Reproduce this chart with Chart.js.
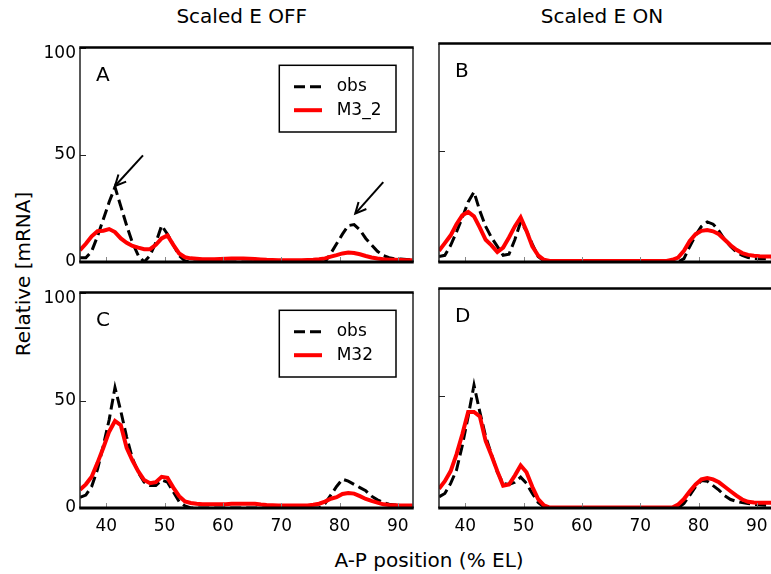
<!DOCTYPE html>
<html>
<head>
<meta charset="utf-8">
<script src="https://cdn.jsdelivr.net/npm/chart.js@4.4.0/dist/chart.umd.min.js"></script>
<style>
html,body{margin:0;padding:0;background:#fff;overflow:hidden;width:771px;height:574px;}
body{position:relative;font-family:"DejaVu Sans",sans-serif;color:#000;}
.panel{position:absolute;}
.panel canvas{display:block;}
.txt{position:absolute;font-family:"DejaVu Sans",sans-serif;font-size:20px;line-height:20px;white-space:nowrap;color:#000;}
</style>
</head>
<body>
<div class="txt" id="t0" style="left:141.7px;width:200px;text-align:center;top:6.4px"></div>
<div class="txt" id="t1" style="left:502px;width:200px;text-align:center;top:6.4px"></div>
<div class="txt" id="ylab" style="left:22.5px;top:274px;transform:translate(-50%,-50%) rotate(-90deg)"></div>
<div class="txt" id="xlab" style="left:329px;width:200px;text-align:center;top:550px"></div>
<script>
// ---------------- data ----------------
const columnTitles = ['Scaled E OFF', 'Scaled E ON'];
const yAxisTitle = 'Relative [mRNA]';
const xAxisTitle = 'A-P position (% EL)';
const panelLetters = ['A', 'B', 'C', 'D'];
const seriesLabels = { obs: 'obs', modelTop: 'M3_2', modelBottom: 'M32' };

const xTicks = [40, 50, 60, 70, 80, 90];
const yTicks = [0, 50, 100];

const xPositions = [35.5,36.5,37.5,38.5,39.5,40.5,41.5,42.5,43.5,44.5,45.5,46.5,47.5,48.5,49.5,50.5,51.5,52.5,53.5,
  54.5,55.5,56.5,57.5,58.5,59.5,60.5,61.5,62.5,63.5,64.5,65.5,66.5,67.5,68.5,69.5,70.5,71.5,72.5,73.5,74.5,75.5,76.5,
  77.5,78.5,79.5,80.5,81.5,82.5,83.5,84.5,85.5,86.5,87.5,88.5,89.5,90.5,91.5,92.5];

// Panel A: Scaled E OFF, model M3_2
const obsA = [2,2,5,12,20,28,35,26,17,9,3,0,3,9,17,13,8,3,0.5,
  0,0,0,0,0,0,0,0,0,0,0,0,0,0,0,0,0,0,0,0,0,0,0,0,
  4,8.5,13,17,17.5,15,11,8,5,3,2,1.5,1.4,1.2,1];
const modelA = [5.5,8.5,12,14.4,14.6,15.4,14,11,9,7.5,6.7,6,6,8,11,12.4,8,4,2.2,
  1.7,1.5,1.3,1.3,1.3,1.4,1.5,1.6,1.6,1.6,1.5,1.4,1.2,1.0,0.9,0.8,0.8,0.8,0.8,0.8,0.9,1.0,1.3,
  1.7,2.5,3.2,4,4.4,4.2,3.6,2.8,2.1,1.6,1.3,1.1,1.0,0.9,0.8,0.8];

// Panel B: Scaled E ON, model M3_2
const obsB = [2.5,3,7.5,13.5,20,27,31.5,23,16,11,7,3,3.5,10,18,14,8,2.5,0.5,
  0,0,0,0,0,0,0,0,0,0,0,0,0,0,0,0,0,0,0,0,0,0,0,
  1.5,7,12,16,18,17,14,10,7,4.5,3,2,1.6,1.5,1.5,1.5];
const modelB = [5,8.5,12,17,21,22.5,20.5,15.5,10,7.5,4.5,6.5,11,16,20,14,7,3,1,
  0.5,0.5,0.5,0.5,0.5,0.5,0.5,0.5,0.5,0.5,0.5,0.5,0.5,0.5,0.5,0.5,0.5,0.5,0.5,0.5,0.5,
  1,2,5,9.5,12.5,14,14.4,13.8,12.5,10,7.5,5.5,4,3.2,2.8,2.6,2.5,2.5];

// Panel C: Scaled E OFF, model M32
const obsC = [5,6,10,18,29,41,56,45,33,23,16.5,12,10.5,10.5,13,12,7.5,3,1,
  0,0,0,0,0,0,0,0,0,0,0,0,0,0,0,0,0,0,0,0,0,0,0,
  2,6,10,13.4,12.5,11,9.5,8,5.5,3.8,2.5,1.8,1.4,1.2,1,1];
const modelC = [8.5,11,14.5,21,28,35.5,40.5,38.5,28,22,17,13,11.5,12,14.5,14,9.5,5.5,3,
  2.3,2,1.8,1.8,1.8,1.8,1.8,2,2,2,2,2,1.6,1.4,1.3,1.2,1.2,1.2,1.2,1.2,1.2,1.5,2,
  3,4.3,5,6.5,7,6.7,5.5,4.2,3.3,2.5,1.7,1.4,1.3,1.2,1.2,1.2];

// Panel D: Scaled E ON, model M32
const obsD = [5,6.5,11,17,28,41,55,43,32,24,16,11,10.5,11.5,13.8,11,6.5,2.5,0.5,
  0,0,0,0,0,0,0,0,0,0,0,0,0,0,0,0,0,0,0,0,0,0,0,
  2,5.7,9.5,12.3,12,10,8,5.5,3.8,3,2.4,2,1.6,1.4,1.2,1.2];
const modelD = [8.6,12,16.5,24,33,43,43,41,30,23.5,16.5,10,10.5,14.5,19,16,9.5,4,1.2,
  0.2,0.2,0.2,0.2,0.2,0.2,0.2,0.2,0.2,0.2,0.2,0.2,0.2,0.2,0.2,0.2,0.2,0.2,0.2,0.2,0.2,0.2,
  1.5,4,7.5,10.5,12.8,13.4,12.8,11.5,9.5,7.5,5.5,3.8,2.8,2.5,2.4,2.4,2.4];

// Annotation arrows in panel A (data coordinates: tail -> head)
const arrowsA = [
  { from: [46.3, 49.8], to: [41.5, 35.5] },
  { from: [87.5, 37.3], to: [82.7, 22.6] }
];

// ---------------- layout / style ----------------
const FONT = '"DejaVu Sans", sans-serif';
const X_MIN = 35.5, X_MAX = 92.6;
const panels = [
  { letter: panelLetters[0], left: 80,  top: 44,  w: 333, h: 218, yMax: 100, obs: obsA, model: modelA, modelLabel: seriesLabels.modelTop,    legend: true,  yLabels: true,  xLabels: false, arrows: arrowsA },
  { letter: panelLetters[1], left: 439, top: 44,  w: 333, h: 218, yMax: 98,  obs: obsB, model: modelB, modelLabel: seriesLabels.modelTop,    legend: false, yLabels: false, xLabels: false, arrows: [] },
  { letter: panelLetters[2], left: 80,  top: 289, w: 333, h: 219, yMax: 100, obs: obsC, model: modelC, modelLabel: seriesLabels.modelBottom, legend: true,  yLabels: true,  xLabels: true,  arrows: [] },
  { letter: panelLetters[3], left: 439, top: 289, w: 333, h: 219, yMax: 98,  obs: obsD, model: modelD, modelLabel: seriesLabels.modelBottom, legend: false, yLabels: false, xLabels: true,  arrows: [] }
];

document.getElementById('t0').textContent = columnTitles[0];
document.getElementById('t1').textContent = columnTitles[1];
document.getElementById('ylab').textContent = yAxisTitle;
document.getElementById('xlab').textContent = xAxisTitle;

const PAD_L = 50, PAD_T = 12, PAD_R = 12, PAD_B = 40;

const decorPlugin = {
  id: 'decor',
  afterDatasetsDraw(chart, args, o) {
    const { ctx, chartArea: { left, top, right, bottom }, scales: { x, y } } = chart;
    ctx.save();
    // inward ticks
    ctx.lineWidth = 1;
    ctx.strokeStyle = '#888';
    x.ticks.forEach(t => {
      const px = Math.round(x.getPixelForValue(t.value)) + 0.5;
      ctx.beginPath(); ctx.moveTo(px, bottom); ctx.lineTo(px, bottom - 5); ctx.stroke();
    });
    ctx.strokeStyle = '#222';
    y.ticks.forEach(t => {
      const py = Math.round(y.getPixelForValue(t.value)) + 0.5;
      ctx.beginPath(); ctx.moveTo(left, py); ctx.lineTo(left + 6, py); ctx.stroke();
    });
    // frame
    ctx.strokeStyle = '#222';
    ctx.lineWidth = 1.5;
    ctx.beginPath(); ctx.moveTo(left, top); ctx.lineTo(left, bottom); ctx.stroke();
    ctx.beginPath(); ctx.moveTo(right, top); ctx.lineTo(right, bottom); ctx.stroke();
    ctx.strokeStyle = '#000';
    ctx.lineWidth = 2.5;
    ctx.beginPath(); ctx.moveTo(left - 0.75, top - 0.5); ctx.lineTo(right + 0.75, top - 0.5); ctx.stroke();
    ctx.lineWidth = 3;
    ctx.beginPath(); ctx.moveTo(left - 0.75, bottom); ctx.lineTo(right + 0.75, bottom); ctx.stroke();
    ctx.restore();
  },
  afterDraw(chart, args, o) {
    const { ctx, chartArea: { left, top }, scales: { x, y } } = chart;
    ctx.save();
    // panel letter
    ctx.fillStyle = '#000';
    ctx.font = '20px ' + FONT;
    ctx.textBaseline = 'alphabetic';
    ctx.textAlign = 'left';
    ctx.fillText(o.letter, left + 16, top + 33);
    // arrows
    (o.arrows || []).forEach(a => {
      const x0 = x.getPixelForValue(a.from[0]), y0 = y.getPixelForValue(a.from[1]);
      const x1 = x.getPixelForValue(a.to[0]), y1 = y.getPixelForValue(a.to[1]);
      const ang = Math.atan2(y1 - y0, x1 - x0);
      ctx.strokeStyle = '#000';
      ctx.lineWidth = 2;
      ctx.beginPath(); ctx.moveTo(x0, y0); ctx.lineTo(x1, y1); ctx.stroke();
      const L = 12, s = 0.45;
      ctx.beginPath();
      ctx.moveTo(x1 - L * Math.cos(ang - s), y1 - L * Math.sin(ang - s));
      ctx.lineTo(x1, y1);
      ctx.lineTo(x1 - L * Math.cos(ang + s), y1 - L * Math.sin(ang + s));
      ctx.stroke();
    });
    // legend
    if (o.legend) {
      const bx = left + 199.3, by = top + 17.3, bw = 116.7, bh = 66.7;
      ctx.fillStyle = '#fff';
      ctx.fillRect(bx, by, bw, bh);
      ctx.strokeStyle = '#000';
      ctx.lineWidth = 1.5;
      ctx.strokeRect(bx, by, bw, bh);
      const rows = [top + 38.8, top + 62.2];
      chart.data.datasets.forEach((ds, i) => {
        const ly = rows[i];
        ctx.save();
        ctx.strokeStyle = ds.borderColor;
        ctx.lineWidth = ds.borderWidth;
        ctx.setLineDash(ds.borderDash || []);
        ctx.beginPath(); ctx.moveTo(left + 214, ly); ctx.lineTo(left + 242, ly); ctx.stroke();
        ctx.restore();
        ctx.fillStyle = '#000';
        ctx.font = '17px ' + FONT;
        ctx.textBaseline = 'middle';
        ctx.fillText(ds.label, left + 256.7, ly);
      });
    }
    ctx.restore();
  }
};

panels.forEach((p, idx) => {
  const div = document.createElement('div');
  div.className = 'panel';
  const W = p.w + PAD_L + PAD_R, H = p.h + PAD_T + PAD_B;
  div.style.left = (p.left - PAD_L) + 'px';
  div.style.top = (p.top - PAD_T) + 'px';
  div.style.width = W + 'px';
  div.style.height = H + 'px';
  const cv = document.createElement('canvas');
  cv.width = W; cv.height = H;
  cv.style.width = W + 'px'; cv.style.height = H + 'px';
  div.appendChild(cv);
  document.body.appendChild(div);

  const pts = arr => xPositions.map((xv, i) => ({ x: xv, y: arr[i] }));

  new Chart(cv.getContext('2d'), {
    type: 'line',
    data: {
      datasets: [
        { label: seriesLabels.obs, data: pts(p.obs), borderColor: '#000000', borderWidth: 3, borderDash: [11, 5],
          pointRadius: 0, tension: 0, fill: false, order: 1 },
        { label: p.modelLabel, data: pts(p.model), borderColor: '#ff0000', borderWidth: 4,
          pointRadius: 0, tension: 0, fill: false, order: 0 }
      ]
    },
    options: {
      responsive: false,
      maintainAspectRatio: false,
      animation: false,
      events: [],
      layout: { padding: { left: 0, top: PAD_T, right: PAD_R, bottom: 0 } },
      plugins: {
        legend: { display: false },
        tooltip: { enabled: false },
        decor: { letter: p.letter, legend: p.legend, arrows: p.arrows }
      },
      scales: {
        x: {
          type: 'linear', min: X_MIN, max: X_MAX,
          afterBuildTicks: s => { s.ticks = xTicks.map(v => ({ value: v })); },
          afterFit: s => { s.height = PAD_B; },
          grid: { display: false, drawTicks: false },
          border: { display: false },
          ticks: { display: p.xLabels, padding: 8, color: '#000', maxRotation: 0, autoSkip: false,
                   font: { family: FONT, size: 17 } }
        },
        y: {
          type: 'linear', min: 0, max: p.yMax,
          afterBuildTicks: s => { s.ticks = yTicks.filter(v => v <= p.yMax).map(v => ({ value: v })); },
          afterFit: s => { s.width = PAD_L; },
          grid: { display: false, drawTicks: false },
          border: { display: false },
          ticks: { display: p.yLabels, padding: 4, color: '#000',
                   font: { family: FONT, size: 17, lineHeight: '12px' },
                   callback: v => (v === 100 ? ['', String(v)] : String(v)) }
        }
      }
    },
    plugins: [decorPlugin]
  });
});
</script>
</body>
</html>
